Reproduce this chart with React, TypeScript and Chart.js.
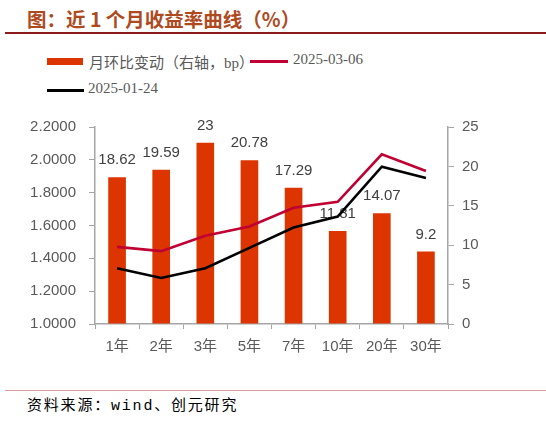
import React, { useEffect, useRef } from "react";
import { Chart, registerables } from "chart.js";

Chart.register(...registerables);

const categories = ["1年", "2年", "3年", "5年", "7年", "10年", "20年", "30年"];
const monthlyChangeBp = [18.62, 19.59, 23, 20.78, 17.29, 11.81, 14.07, 9.2];
const yield20250306 = [1.47, 1.444, 1.538, 1.594, 1.708, 1.744, 2.034, 1.932];
const yield20250124 = [1.34, 1.28, 1.34, 1.464, 1.588, 1.654, 1.958, 1.89];
const leftAxisRange = [1.0, 2.2];
const rightAxisRange = [0, 25];

const BAR_COLOR = "#DC3500";
const RED_COLOR = "#C00032";
const BLACK_COLOR = "#000000";
const AXIS_COLOR = "#A6A6A6";
const TICK_COLOR = "#595959";

const barLabelPlugin = {
  id: "barLabels",
  afterDatasetDraw(chart: any, args: any) {
    if (args.index !== 0) return;
    const ctx = chart.ctx;
    const meta = chart.getDatasetMeta(0);
    ctx.save();
    ctx.font = '15px "Liberation Sans", Arial, sans-serif';
    ctx.fillStyle = "#404040";
    ctx.textAlign = "center";
    ctx.textBaseline = "middle";
    meta.data.forEach((bar: any, i: number) => {
      ctx.fillText(String(monthlyChangeBp[i]), bar.x, bar.y - 17);
    });
    ctx.restore();
  },
};

function ChartCanvas() {
  const ref = useRef<HTMLCanvasElement | null>(null);
  useEffect(() => {
    if (!ref.current) return;
    const chart = new Chart(ref.current, {
      type: "bar",
      data: {
        labels: categories,
        datasets: [
          {
            type: "bar",
            label: "月环比变动（右轴，bp）",
            data: monthlyChangeBp,
            backgroundColor: BAR_COLOR,
            yAxisID: "yR",
            order: 2,
            barPercentage: 0.4,
            categoryPercentage: 1,
          },
          {
            type: "line",
            label: "2025-03-06",
            data: yield20250306,
            borderColor: RED_COLOR,
            backgroundColor: RED_COLOR,
            borderWidth: 2.6,
            pointRadius: 0,
            tension: 0,
            yAxisID: "yL",
            order: 1,
          },
          {
            type: "line",
            label: "2025-01-24",
            data: yield20250124,
            borderColor: BLACK_COLOR,
            backgroundColor: BLACK_COLOR,
            borderWidth: 2.6,
            pointRadius: 0,
            tension: 0,
            yAxisID: "yL",
            order: 0,
          },
        ],
      } as any,
      options: {
        animation: false,
        responsive: false,
        maintainAspectRatio: false,
        layout: { padding: { top: 19, left: 0, right: 0, bottom: 0 } },
        plugins: {
          legend: { display: false },
          tooltip: { enabled: false },
          title: { display: false },
        },
        scales: {
          x: {
            offset: true,
            grid: {
              offset: true,
              drawOnChartArea: false,
              drawTicks: true,
              tickLength: 5,
              color: AXIS_COLOR,
            },
            border: { color: AXIS_COLOR, width: 1.5 },
            ticks: {
              color: TICK_COLOR,
              padding: 9,
              font: { family: '"Liberation Sans", Arial, "Noto Sans CJK SC", sans-serif', size: 15 },
              maxRotation: 0,
              autoSkip: false,
            },
            afterFit(scale: any) {
              scale.height = 51;
            },
          },
          yL: {
            position: "left",
            min: leftAxisRange[0],
            max: leftAxisRange[1],
            grid: {
              drawOnChartArea: false,
              drawTicks: true,
              tickLength: 6,
              color: AXIS_COLOR,
            },
            border: { color: AXIS_COLOR, width: 1.5 },
            ticks: {
              stepSize: 0.2,
              color: TICK_COLOR,
              padding: 13,
              font: { family: '"Liberation Sans", Arial, sans-serif', size: 15 },
              callback: (v: any) => Number(v).toFixed(4),
            },
            afterFit(scale: any) {
              scale.width = 95;
            },
          },
          yR: {
            position: "right",
            min: rightAxisRange[0],
            max: rightAxisRange[1],
            grid: {
              drawOnChartArea: false,
              drawTicks: true,
              tickLength: 6,
              color: AXIS_COLOR,
            },
            border: { color: AXIS_COLOR, width: 1.5 },
            ticks: {
              stepSize: 5,
              color: TICK_COLOR,
              padding: 8,
              font: { family: '"Liberation Sans", Arial, sans-serif', size: 15 },
            },
            afterFit(scale: any) {
              scale.width = 98;
            },
          },
        },
      } as any,
      plugins: [barLabelPlugin],
    });
    return () => chart.destroy();
  }, []);
  return (
    <canvas
      ref={ref}
      width={546}
      height={270}
      style={{ position: "absolute", left: 0, top: 105, width: 546, height: 270 }}
    />
  );
}

export default function App() {
  const legendFont = '15px "Liberation Serif", "Times New Roman", "Noto Sans CJK SC", serif';
  return (
    <div
      style={{
        position: "absolute",
        left: 0,
        top: 0,
        width: 546,
        height: 427,
        background: "#fff",
        overflow: "hidden",
      }}
    >
      <div
        style={{
          position: "absolute",
          left: 27,
          top: 4,
          height: 24,
          lineHeight: "24px",
          font: 'bold 19.5px "Noto Sans CJK SC", "Liberation Sans", sans-serif',
          color: "#AE4A1E",
          whiteSpace: "nowrap",
        }}
      >
        图：近 1 个月收益率曲线（%）
      </div>
      <div style={{ position: "absolute", left: 5, top: 32, width: 541, height: 2, background: "#8C1C1C" }} />

      <div style={{ position: "absolute", left: 47, top: 58, width: 36, height: 7, background: BAR_COLOR }} />
      <div
        style={{
          position: "absolute",
          left: 89,
          top: 51,
          height: 20,
          lineHeight: "20px",
          font: legendFont,
          color: TICK_COLOR,
          whiteSpace: "nowrap",
        }}
      >
        月环比变动（右轴，bp）
      </div>
      <div style={{ position: "absolute", left: 250, top: 60, width: 38, height: 3, background: RED_COLOR }} />
      <div
        style={{
          position: "absolute",
          left: 293,
          top: 51,
          height: 20,
          lineHeight: "20px",
          font: legendFont,
          color: TICK_COLOR,
          whiteSpace: "nowrap",
        }}
      >
        2025-03-06
      </div>
      <div style={{ position: "absolute", left: 47, top: 89, width: 37, height: 3, background: BLACK_COLOR }} />
      <div
        style={{
          position: "absolute",
          left: 88,
          top: 80,
          height: 20,
          lineHeight: "20px",
          font: legendFont,
          color: TICK_COLOR,
          whiteSpace: "nowrap",
        }}
      >
        2025-01-24
      </div>

      <ChartCanvas />

      <div style={{ position: "absolute", left: 5, top: 390, width: 541, height: 1, background: "#D9A0A0" }} />
      <div
        style={{
          position: "absolute",
          left: 27,
          top: 393,
          height: 20,
          lineHeight: "20px",
          font: '15px "Liberation Mono", "Noto Sans CJK SC", monospace',
          letterSpacing: "1.8px",
          color: "#000",
          whiteSpace: "nowrap",
        }}
      >
        资料来源：wind、创元研究
      </div>
    </div>
  );
}
